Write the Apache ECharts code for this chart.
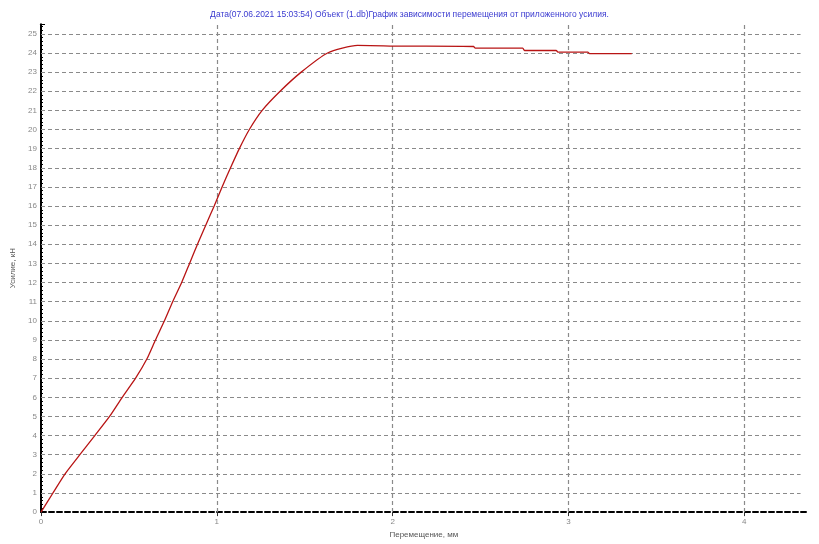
<!DOCTYPE html>
<html><head><meta charset="utf-8">
<script src="https://cdn.jsdelivr.net/npm/echarts@6/dist/echarts.min.js"></script>
<style>html,body{margin:0;padding:0;background:#fff}#c{width:819px;height:544px}</style>
</head><body><div id="c"></div>
<script>
const titleText = 'Дата(07.06.2021 15:03:54) Объект (1.db)График зависимости перемещения от приложенного усилия.';
const xName = 'Перемещение, мм';
const yName = 'Усилие, кН';
const disp = [0, 0.068, 0.137, 0.221, 0.306, 0.39, 0.462, 0.538, 0.602, 0.651, 0.702, 0.749, 0.80, 0.845, 0.89, 0.937, 0.985, 1.03, 1.078, 1.128, 1.185, 1.258, 1.36, 1.48, 1.63, 1.80, 2.05, 2.46, 2.47, 2.74, 2.75, 2.93, 2.94, 3.11, 3.12, 3.36];
const force = [0, 1, 2, 3, 4, 5, 6, 7, 8, 9, 10, 11, 12, 13, 14, 15, 16, 17, 18, 19, 20, 21, 22, 23, 24, 24.4, 24.36, 24.34, 24.25, 24.25, 24.13, 24.13, 24.05, 24.05, 23.97, 23.97];
const gridX = [1, 2, 3, 4];
const gridY = [1, 2, 3, 4, 5, 6, 7, 8, 9, 10, 11, 12, 13, 14, 15, 16, 17, 18, 19, 20, 21, 22, 23, 24, 25];
const xMax = 4.355, yMax = 25.5, hEnd = 4.32;

const gridLines = [];
gridY.forEach(v => gridLines.push([{ coord: [0, v] }, { coord: [hEnd, v] }]));
gridX.forEach(v => gridLines.push([{ coord: [v, 0] }, { coord: [v, yMax] }]));

const chart = echarts.init(document.getElementById('c'));
chart.setOption({
  animation: false,
  backgroundColor: '#fff',
  title: { text: titleText, left: 'center', top: 5, textStyle: { fontSize: 8.5, fontWeight: 'normal', color: '#3a3ad0', fontFamily: 'Liberation Sans' } },
  grid: { left: 41, right: 12.3, top: 24.3, bottom: 27.3 },
  xAxis: {
    type: 'value', min: 0, max: xMax, interval: 1,
    name: xName, nameLocation: 'middle', nameGap: 16,
    nameTextStyle: { fontSize: 8, color: '#555', fontFamily: 'Liberation Sans' },
    axisLine: { show: true, onZero: false, lineStyle: { color: '#000', width: 2, type: [5, 3] } },
    axisTick: { show: true, length: 4, lineStyle: { color: '#333' } },
    axisLabel: { fontSize: 8, color: '#888', margin: 6, showMaxLabel: false, fontFamily: 'Liberation Sans' },
    splitLine: { show: false }
  },
  yAxis: {
    type: 'value', min: 0, max: yMax, interval: 1,
    name: yName, nameLocation: 'middle', nameGap: 20,
    nameTextStyle: { fontSize: 8, color: '#555', fontFamily: 'Liberation Sans' },
    axisLine: { show: true, lineStyle: { color: '#000', width: 2 } },
    axisTick: { show: true, inside: true, length: 4, lineStyle: { color: '#000' } },
    minorTick: { show: true, splitNumber: 5, length: 2, lineStyle: { color: '#000' } },
    axisLabel: { fontSize: 8, color: '#888', margin: 4, showMaxLabel: false, fontFamily: 'Liberation Sans' },
    splitLine: { show: false }
  },
  series: [{
    type: 'line', data: disp.map((d, i) => [d, force[i]]),
    showSymbol: false, smooth: 0.2,
    lineStyle: { color: '#b81414', width: 1.3 },
    z: 5,
    markLine: {
      silent: true, symbol: 'none', label: { show: false }, animation: false,
      lineStyle: { color: '#8a8a8a', type: [4, 3], width: 1.2 },
      emphasis: { disabled: true },
      data: gridLines
    }
  }]
});
</script></body></html>
